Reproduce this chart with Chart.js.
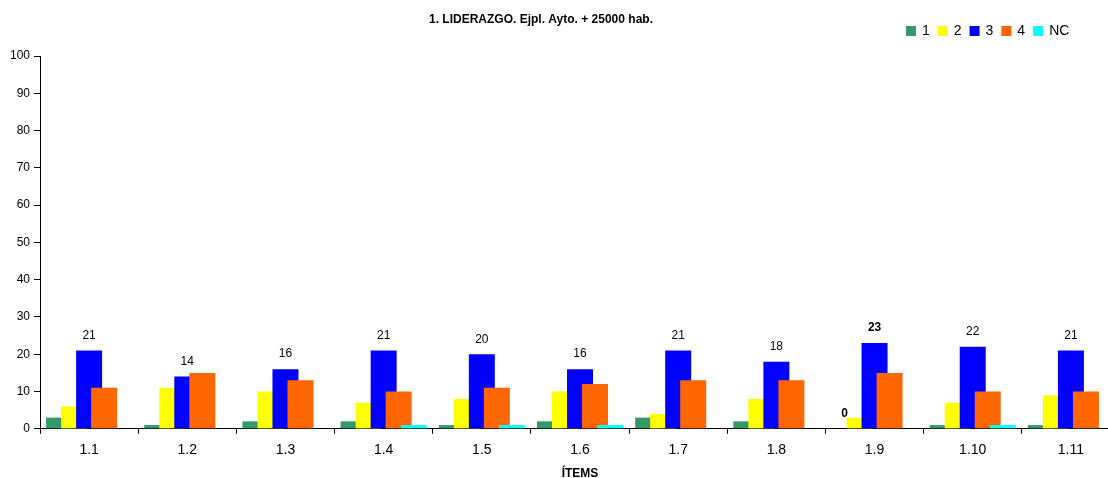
<!DOCTYPE html>
<html>
<head>
<meta charset="utf-8">
<script src="https://cdn.jsdelivr.net/npm/chart.js@4/dist/chart.umd.min.js"></script>
<style>
  html, body { margin: 0; padding: 0; background: #fff; overflow: hidden; }
  #wrap { width: 1108px; height: 478px; overflow: hidden; position: relative; }
</style>
</head>
<body>
<div id="wrap"><canvas id="myChart" width="1120" height="481"></canvas></div>
<script>
const categories = ['1.1', '1.2', '1.3', '1.4', '1.5', '1.6', '1.7', '1.8', '1.9', '1.10', '1.11'];
const serie1 = [3, 1, 2, 2, 1, 2, 3, 2, 0, 1, 1];
const serie2 = [6, 11, 10, 7, 8, 10, 4, 8, 3, 7, 9];
const serie3 = [21, 14, 16, 21, 20, 16, 21, 18, 23, 22, 21];
const serie4 = [11, 15, 13, 10, 11, 12, 13, 13, 15, 10, 10];
const serieNC = [0, 0, 0, 1, 1, 1, 0, 0, 0, 1, 0];
const yTicks = [0, 10, 20, 30, 40, 50, 60, 70, 80, 90, 100];

const FONT = 'Arial, "Liberation Sans", sans-serif';

// excel style: bars overlap, later series on top, plus labels/title/legend
const excelPlugin = {
  id: 'excel',
  beforeDatasetsDraw(chart) {
    const ctx = chart.ctx;
    chart.getSortedVisibleDatasetMetas().forEach(function (meta) {
      ctx.save();
      meta.controller.draw();
      ctx.restore();
    });

    // data labels
    ctx.save();
    ctx.fillStyle = '#000';
    ctx.textAlign = 'center';
    ctx.textBaseline = 'middle';
    chart.getSortedVisibleDatasetMetas().forEach(function (meta) {
      const data = chart.data.datasets[meta.index].data;
      meta.data.forEach(function (bar, i) {
        const show = meta.index === 2 || (meta.index === 0 && data[i] === 0);
        if (!show) return;
        ctx.font = (i === 8 ? 'bold ' : '') + '12px ' + FONT;
        ctx.fillText(String(data[i]), bar.x, bar.y - 15);
      });
    });
    ctx.restore();
    return false;
  },
  afterDraw(chart) {
    const ctx = chart.ctx;
    ctx.save();
    ctx.fillStyle = '#000';
    ctx.textBaseline = 'middle';
    ctx.textAlign = 'center';
    ctx.font = 'bold 12px ' + FONT;
    ctx.fillText('1. LIDERAZGO. Ejpl. Ayto. + 25000 hab.', 541, 20);

    // legend
    ctx.textAlign = 'left';
    ctx.font = '14px ' + FONT;
    let x = 906;
    chart.data.datasets.forEach(function (ds) {
      ctx.fillStyle = ds.backgroundColor;
      ctx.fillRect(x, 26, 10, 10);
      ctx.fillStyle = '#000';
      ctx.fillText(ds.label, x + 16, 31);
      x += 16 + ctx.measureText(ds.label).width + 8;
    });
    ctx.restore();
  }
};

const ctx = document.getElementById('myChart');

new Chart(ctx, {
  type: 'bar',
  data: {
    labels: categories,
    datasets: [
      { label: '1', data: serie1, backgroundColor: '#339966' },
      { label: '2', data: serie2, backgroundColor: '#FFFF00' },
      { label: '3', data: serie3, backgroundColor: '#0000FF' },
      { label: '4', data: serie4, backgroundColor: '#FF6600' },
      { label: 'NC', data: serieNC, backgroundColor: '#00FFFF' }
    ]
  },
  plugins: [excelPlugin],
  options: {
    responsive: false,
    animation: false,
    devicePixelRatio: 1,
    categoryPercentage: 0.765,
    barPercentage: 1.73,
    layout: { padding: { top: 56, left: 6, right: 0, bottom: 0 } },
    plugins: {
      legend: { display: false },
      title: { display: false },
      tooltip: { enabled: false }
    },
    scales: {
      x: {
        grid: { offset: true, drawOnChartArea: false, tickLength: 5, color: '#000' },
        border: { color: '#000' },
        ticks: { color: '#000', font: { family: FONT, size: 14 }, padding: 8 },
        title: { display: true, text: 'ÍTEMS', color: '#000', font: { family: FONT, size: 12, weight: 'bold' }, padding: { top: 0, bottom: 0 } }
      },
      y: {
        min: 0,
        max: 100,
        afterBuildTicks: function (axis) {
          axis.ticks = yTicks.map(function (v) { return { value: v }; });
        },
        grid: { drawOnChartArea: false, tickLength: 6, color: '#000' },
        border: { color: '#000' },
        ticks: { color: '#000', font: { family: FONT, size: 12 }, padding: 4 }
      }
    }
  }
});
</script>
</body>
</html>
